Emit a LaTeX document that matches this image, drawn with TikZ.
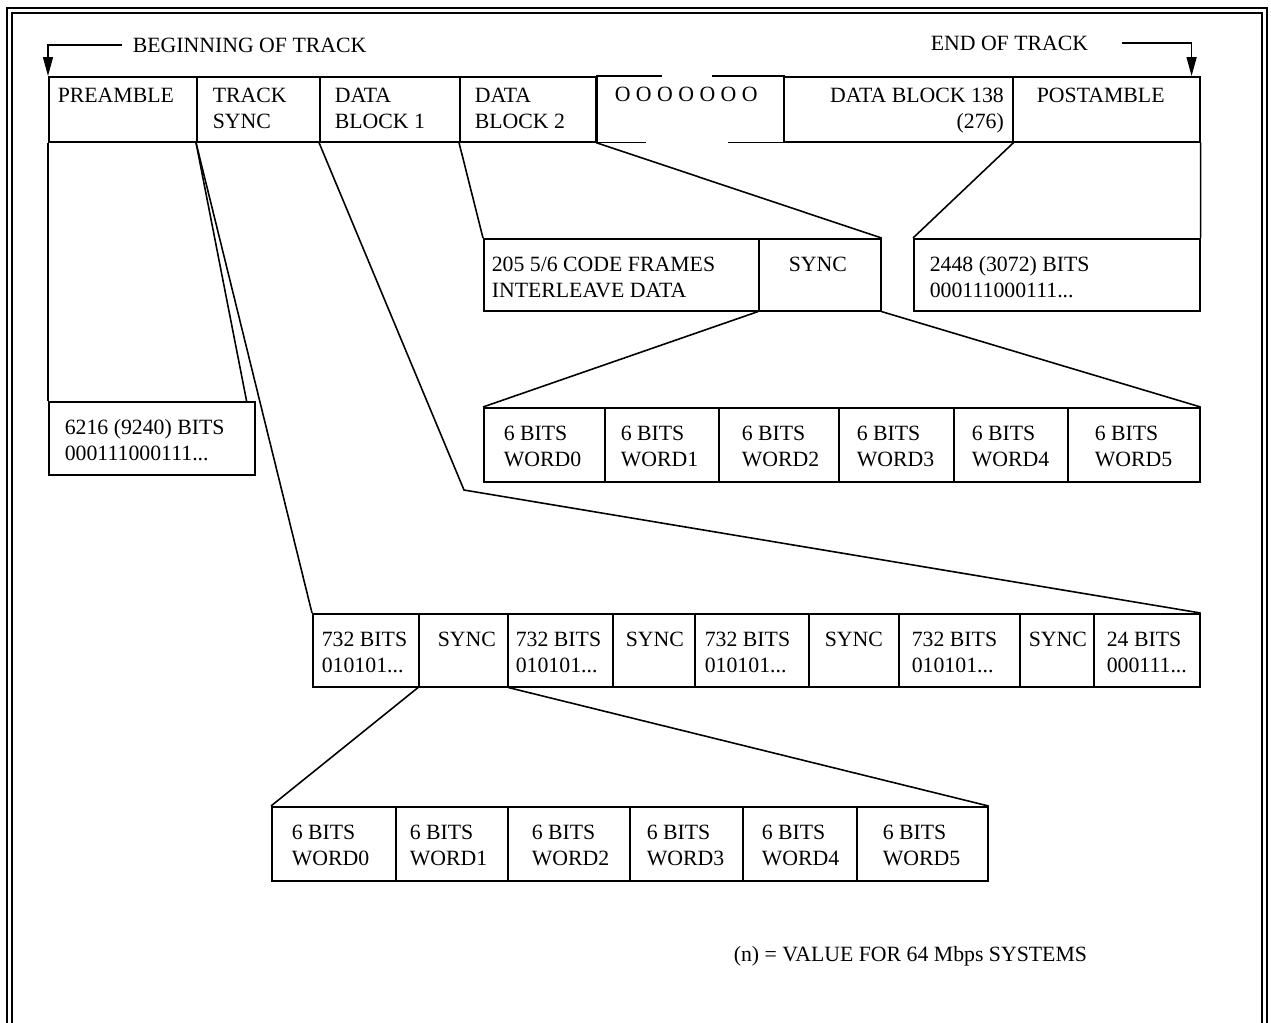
\documentclass[tikz,border=0pt]{standalone}
\usepackage{fontspec}
\setmainfont{Liberation Serif}
\usetikzlibrary{arrows.meta}
\begin{document}
\begin{tikzpicture}[x=0.02cm, y=-0.02cm, >={Triangle[length=0.38cm, width=0.2cm]},
    line width=0.9pt, font=\fontsize{12.4}{14.8}\selectfont,
    cell/.style 2 args={draw, anchor=north west, inner sep=0pt, minimum width={(#1)*0.02cm}, minimum height={(#2)*0.02cm}},
    lbl/.style={anchor=north west, inner sep=0pt, align=left}]
\useasboundingbox (0,0) rectangle (1271,1022);
\draw[line width=1.6pt] (7,1040) |- (1267,8) -- (1267,1040);
\draw[line width=0.6pt] (12,1040) |- (1262,13) -- (1262,1040);

\node[cell={148}{65}] (pre) at (48,76) {};
\node[cell={123}{65}] (tsync) at (196,76) {};
\node[cell={140}{65}] (db1) at (319,76) {};
\node[cell={137}{65}] (db2) at (459,76) {};
\node[cell={187}{65}, draw=none] (dots) at (596,76) {};
\node[cell={229}{65}] (db138) at (783,76) {};
\node[cell={187}{65}] (post) at (1012,76) {};
\draw (dots.north west) -- (dots.south west);
\draw (dots.north west) -- ++(66,0) (dots.north east) -- ++(-73,0);
\draw (dots.south west) -- ++(50,0) (dots.south east) -- ++(-57,0);
\node[lbl] (pre-t) at ([shift={(9,11)}]pre.north west) {PREAMBLE};
\node[lbl] (tsync-t) at ([shift={(16,11)}]tsync.north west) {TRACK\\SYNC};
\node[lbl] (db1-t) at ([shift={(15,11)}]db1.north west) {DATA\\BLOCK 1};
\node[lbl] (db2-t) at ([shift={(15,11)}]db2.north west) {DATA\\BLOCK 2};
\node[lbl] (dots-t) at ([shift={(18,10)}]dots.north west) {O O O O O O O};
\node[lbl, anchor=north east, align=right] (db138-t) at ([shift={(-9,11)}]db138.north east) {DATA BLOCK 138\\(276)};
\node[lbl] (post-t) at ([shift={(24,11)}]post.north west) {POSTAMBLE};

\node[lbl] (bot) at (132,37) {BEGINNING OF TRACK};
\draw[->] ([shift={(-10,0)}]bot.west) -| (pre.north west);
\node[lbl] (eot) at (930,35) {END OF TRACK};
\draw[->] ([shift={(33,0)}]eot.east) -| ([shift={(-9,0)}]post.north east);

\node[cell={275}{72}] (cf) at (483,238) {};
\node[cell={122}{72}] (cfsync) at (758,238) {};
\node[cell={286}{72}] (postbits) at (913,238) {};
\node[cell={206}{73}] (prebits) at (48,401) {};
\node[lbl] (cf-t) at ([shift={(8,18)}]cf.north west) {205 5/6 CODE FRAMES\\INTERLEAVE DATA};
\node[lbl] (cfsync-t) at ([shift={(30,18)}]cfsync.north west) {SYNC};
\node[lbl] (postbits-t) at ([shift={(16,18)}]postbits.north west) {2448 (3072) BITS\\000111000111...};
\node[lbl] (prebits-t) at ([shift={(16,18)}]prebits.north west) {6216 (9240) BITS\\000111000111...};

\foreach \a/\b/\d [count=\i from 0] in {483/604/20, 604/718/16, 718/838/23, 838/953/18, 953/1067/18, 1067/1199/27}
{\node[cell={\b-\a}{74}] (wa\i) at (\a,407) {};
 \node[lbl] (wa\i-t) at ([shift={(\d,18)}]wa\i.north west) {6 BITS\\WORD\i};}

\foreach \a/\b/\d/\t [count=\i] in {312/418/9/{732 BITS\\010101...}, 418/507/19/SYNC, 507/612/8/{732 BITS\\010101...}, 612/694/13/SYNC, 694/808/10/{732 BITS\\010101...}, 808/898/16/SYNC, 898/1019/13/{732 BITS\\010101...}, 1019/1093/9/SYNC, 1093/1199/13/{24 BITS\\000111...}}
{\node[cell={\b-\a}{73}] (b\i) at (\a,613) {};
 \node[lbl] (b\i-t) at ([shift={(\d,18)}]b\i.north west) {\t};}

\foreach \a/\b/\d [count=\i from 0] in {271/395/20, 395/507/14, 507/629/24, 629/742/17, 742/856/19, 856/987/26}
{\node[cell={\b-\a}{74}] (wc\i) at (\a,806) {};
 \node[lbl] (wc\i-t) at ([shift={(\d,18)}]wc\i.north west) {6 BITS\\WORD\i};}

\draw (pre.south west) -- (prebits.north west);
\draw (tsync.south west) -- ([shift={(-9,0)}]prebits.north east);
\draw (tsync.south west) -- (b1.north west);
\coordinate (bend) at (464,490);
\draw (db1.south west) -- (bend) -- (b9.north east);
\draw (db2.south west) -- (cf.north west);
\draw (dots.south west) -- (cfsync.north east);
\draw (db138.south east) -- (postbits.north west);
\draw (post.south east) -- (postbits.north east);
\draw (cfsync.south west) -- (wa0.north west);
\draw (cfsync.south east) -- (wa5.north east);
\draw (b2.south west) -- (wc0.north west);
\draw (b2.south east) -- (wc5.north east);

\node[lbl] (note) at (733,946) {(n) = VALUE FOR 64 Mbps SYSTEMS};
\end{tikzpicture}
\end{document}
